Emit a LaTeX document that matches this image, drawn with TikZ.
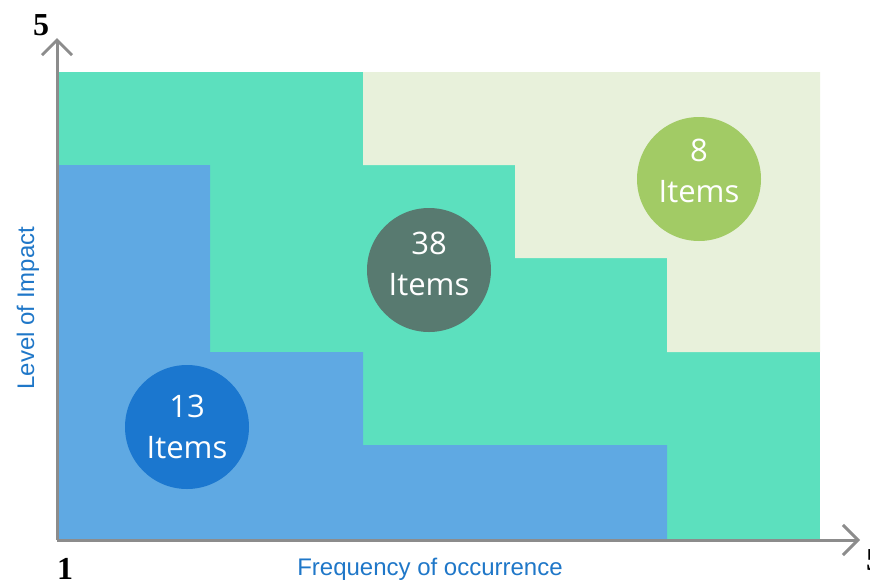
\documentclass[tikz,border=0pt]{standalone}
\usepackage{fontspec}
\setmainfont{Liberation Serif}
\newfontfamily\axisfont{Liberation Sans}
\newfontfamily\itemfont{Open Sans}
\usetikzlibrary{arrows.meta}
\definecolor{zoneteal}{HTML}{5CE0BE}
\definecolor{zoneblue}{HTML}{5FA9E3}
\definecolor{zonecream}{HTML}{E8F1DB}
\definecolor{dotblue}{HTML}{1B77CF}
\definecolor{dotgray}{HTML}{587A70}
\definecolor{dotgreen}{HTML}{A2CB65}
\definecolor{axisgray}{HTML}{8C8C8C}
\definecolor{labelblue}{HTML}{1F77C8}
\begin{document}
\begin{tikzpicture}[x=1pt,y=-1pt,line join=round,
    >={Straight Barb[length=15pt,width=30pt]},
    axis/.style={draw=axisgray,line width=3pt},
    bubble/.style={circle,minimum size=124pt,inner sep=0pt},
    count/.style={align=center,text=white,inner sep=0pt,
        font=\itemfont\fontsize{31}{41}\selectfont},
    tick/.style={anchor=base,font=\bfseries\fontsize{32}{32}\selectfont},
    title/.style={anchor=base,text=labelblue,font=\axisfont\fontsize{24}{24}\selectfont}]
    \useasboundingbox (0,0) rectangle (870,579);
    % zones
    \fill[zoneteal] (57,72) rectangle (820,540);
    \fill[zoneblue] (57,540) -- (57,165) -- (210,165) -- (210,352) -- (363,352)
        -- (363,445) -- (667,445) -- (667,540) -- cycle;
    \fill[zonecream] (363,72) -- (820,72) -- (820,352) -- (667,352) -- (667,258)
        -- (515,258) -- (515,165) -- (363,165) -- cycle;
    % axes
    \coordinate (O) at (57,540);
    \coordinate (Ytop) at (57,38);
    \coordinate (Xend) at (860,540);
    \draw[axis,->] (O) -- (Ytop);
    \draw[axis,->] (O) -- (Xend);
    \node[tick] (ymax) at (41,35) {5};
    \node[tick] (orig) at (65,579) {1};
    \node[tick] (xmax) at (874,570) {5};
    \node[title] (xlab) at (430,575) {Frequency of occurrence};
    \node[title,rotate=90] (ylab) at (34,308) {Level of Impact};
    % counts
    \node[bubble,fill=dotblue] (low) at (187,427) {};
    \node[bubble,fill=dotgray] (mid) at (429,270) {};
    \node[bubble,fill=dotgreen] (high) at (699,179) {};
    \node[count] (lowtxt) at (low) {13\\Items};
    \node[count] (midtxt) at ([yshift=6pt]mid) {38\\Items};
    \node[count] (hightxt) at ([yshift=8pt]high) {8\\Items};
\end{tikzpicture}
\end{document}
